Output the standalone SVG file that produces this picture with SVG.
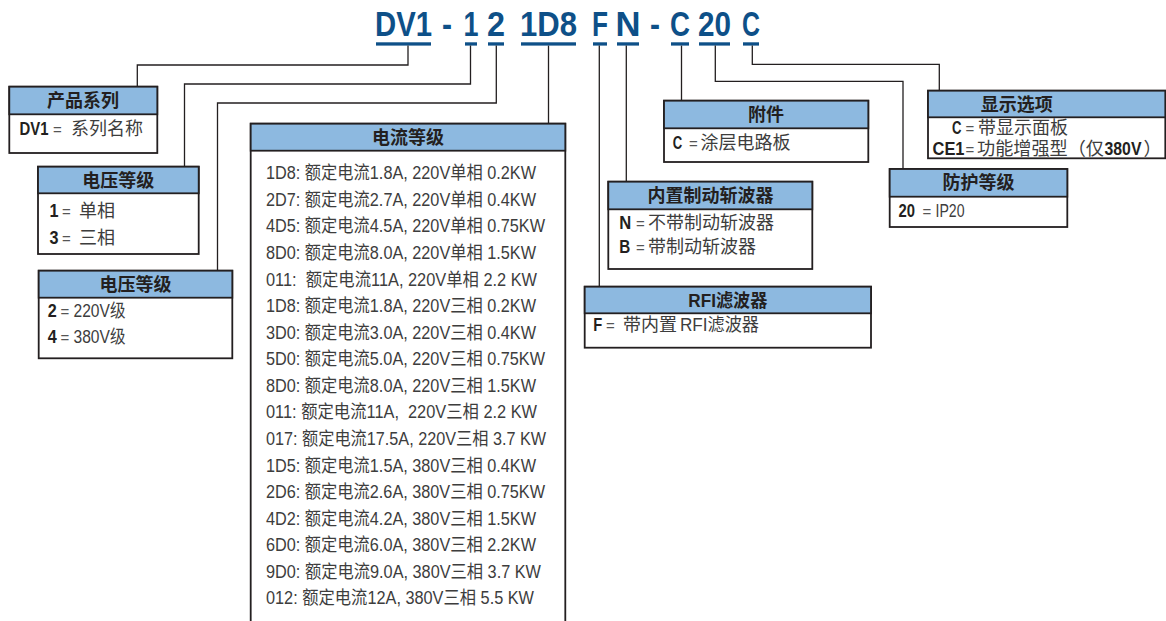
<svg xmlns="http://www.w3.org/2000/svg" width="1166" height="621" viewBox="0 0 1166 621">
<style>
.code{font-family:"Liberation Sans Narrow","Liberation Sans",sans-serif;font-weight:bold;font-size:35px;fill:#0e5088;text-anchor:middle}
.ul{fill:#0e5088}
.box{fill:#fff;stroke:#231f20;stroke-width:1.8}
.hdr{fill:#8db9e0;stroke:#231f20;stroke-width:1.8}
.ht{font-family:"Liberation Sans Narrow","Liberation Sans","Noto Sans CJK SC",sans-serif;font-weight:bold;font-size:18px;fill:#231f20;text-anchor:middle}
.bt{font-family:"Liberation Sans Narrow","Liberation Sans","Noto Sans CJK SC",sans-serif;font-size:18px;fill:#3d3d3d}
.b{font-family:"Liberation Sans Narrow","Liberation Sans",sans-serif;font-size:18px;font-weight:bold;fill:#231f20}
.eq{font-family:"Liberation Sans",sans-serif;font-size:15px;fill:#555}
.con{fill:none;stroke:#231f20;stroke-width:1.3}
</style>

<g id="code">
<text class="code" x="403.5" y="35.5" textLength="57" lengthAdjust="spacingAndGlyphs">DV1</text>
<text class="code" x="447" y="35.5" textLength="10" lengthAdjust="spacingAndGlyphs">-</text>
<text class="code" x="471" y="35.5" textLength="15" lengthAdjust="spacingAndGlyphs">1</text>
<text class="code" x="496" y="35.5" textLength="18" lengthAdjust="spacingAndGlyphs">2</text>
<text class="code" x="548.5" y="35.5" textLength="57" lengthAdjust="spacingAndGlyphs">1D8</text>
<text class="code" x="600" y="35.5" textLength="16" lengthAdjust="spacingAndGlyphs">F</text>
<text class="code" x="628" y="35.5" textLength="25" lengthAdjust="spacingAndGlyphs">N</text>
<text class="code" x="655" y="35.5" textLength="10" lengthAdjust="spacingAndGlyphs">-</text>
<text class="code" x="680" y="35.5" textLength="20" lengthAdjust="spacingAndGlyphs">C</text>
<text class="code" x="714.5" y="35.5" textLength="33" lengthAdjust="spacingAndGlyphs">20</text>
<text class="code" x="751" y="35.5" textLength="18" lengthAdjust="spacingAndGlyphs">C</text>
<rect class="ul" x="376" y="42.3" width="55" height="3.3"/>
<rect class="ul" x="465" y="42.3" width="12" height="3.3"/>
<rect class="ul" x="488" y="42.3" width="16" height="3.3"/>
<rect class="ul" x="521" y="42.3" width="55" height="3.3"/>
<rect class="ul" x="593" y="42.3" width="14" height="3.3"/>
<rect class="ul" x="617" y="42.3" width="22" height="3.3"/>
<rect class="ul" x="671" y="42.3" width="18" height="3.3"/>
<rect class="ul" x="699" y="42.3" width="31" height="3.3"/>
<rect class="ul" x="743" y="42.3" width="16" height="3.3"/>
</g>

<g id="connectors">
<path class="con" d="M408,45.6 V65 H137.3 V86.7"/>
<path class="con" d="M470.5,45.6 V84 H184.5 V166.7"/>
<path class="con" d="M496.3,45.6 V103 H217.5 V270.7"/>
<path class="con" d="M548.5,45.6 V123.7"/>
<path class="con" d="M599.3,45.6 V286.7"/>
<path class="con" d="M626.3,45.6 V181.7"/>
<path class="con" d="M681.5,45.6 V100.7"/>
<path class="con" d="M715.3,45.6 V81.3 H903 V169"/>
<path class="con" d="M752.3,45.6 V64.3 H939.3 V90.7"/>
</g>

<g id="node-series">
<rect class="box" x="9.3" y="86.7" width="148" height="66.3"/>
<rect class="hdr" x="9.3" y="86.7" width="148" height="27.6"/>
<text class="ht" x="83" y="107">产品系列</text>
<text class="b" x="19.5" y="135" textLength="29" lengthAdjust="spacingAndGlyphs">DV1</text>
<text class="eq" x="53" y="135">=</text>
<text class="bt" x="71" y="135">系列名称</text>
</g>

<g id="node-phase">
<rect class="box" x="38" y="166.7" width="160.7" height="87.3"/>
<rect class="hdr" x="38" y="166.7" width="160.7" height="26.6"/>
<text class="ht" x="118.3" y="186.5">电压等级</text>
<text class="b" x="49.5" y="216.7" textLength="9" lengthAdjust="spacingAndGlyphs">1</text>
<text class="eq" x="62" y="216.7">=</text>
<text class="bt" x="79" y="216.7">单相</text>
<text class="b" x="49.5" y="243.5" textLength="9" lengthAdjust="spacingAndGlyphs">3</text>
<text class="eq" x="62" y="243.5">=</text>
<text class="bt" x="79" y="243.5">三相</text>
</g>

<g id="node-voltage">
<rect class="box" x="38.7" y="270.7" width="193.6" height="87.6"/>
<rect class="hdr" x="38.7" y="270.7" width="193.6" height="27"/>
<text class="ht" x="135.5" y="290.7">电压等级</text>
<text class="b" x="47.8" y="316.7" textLength="9" lengthAdjust="spacingAndGlyphs">2</text>
<text class="eq" x="60.5" y="316.7">=</text>
<text class="bt" x="73.5" y="316.7" textLength="52" lengthAdjust="spacingAndGlyphs">220V级</text>
<text class="b" x="47.8" y="343.3" textLength="9" lengthAdjust="spacingAndGlyphs">4</text>
<text class="eq" x="60.5" y="343.3">=</text>
<text class="bt" x="73.5" y="343.3" textLength="52" lengthAdjust="spacingAndGlyphs">380V级</text>
</g>

<g id="node-current">
<path class="box" d="M250.7,630 V123.7 H565.3 V630"/>
<rect class="hdr" x="250.7" y="123.7" width="314.6" height="27"/>
<text class="ht" x="408" y="143.7">电流等级</text>
<g class="bt">
<text x="266" y="179.3" textLength="270" lengthAdjust="spacingAndGlyphs">1D8: 额定电流1.8A, 220V单相 0.2KW</text>
<text x="266" y="205.9" textLength="270" lengthAdjust="spacingAndGlyphs">2D7: 额定电流2.7A, 220V单相 0.4KW</text>
<text x="266" y="232.4" textLength="279" lengthAdjust="spacingAndGlyphs">4D5: 额定电流4.5A, 220V单相 0.75KW</text>
<text x="266" y="259" textLength="270" lengthAdjust="spacingAndGlyphs">8D0: 额定电流8.0A, 220V单相 1.5KW</text>
<text x="266" y="285.5" textLength="271" lengthAdjust="spacingAndGlyphs">011:&#160; 额定电流11A, 220V单相 2.2 KW</text>
<text x="266" y="312.1" textLength="270" lengthAdjust="spacingAndGlyphs">1D8: 额定电流1.8A, 220V三相 0.2KW</text>
<text x="266" y="338.7" textLength="270" lengthAdjust="spacingAndGlyphs">3D0: 额定电流3.0A, 220V三相 0.4KW</text>
<text x="266" y="365.2" textLength="279" lengthAdjust="spacingAndGlyphs">5D0: 额定电流5.0A, 220V三相 0.75KW</text>
<text x="266" y="391.8" textLength="270" lengthAdjust="spacingAndGlyphs">8D0: 额定电流8.0A, 220V三相 1.5KW</text>
<text x="266" y="418.3" textLength="271" lengthAdjust="spacingAndGlyphs">011: 额定电流11A,&#160; 220V三相 2.2 KW</text>
<text x="266" y="444.9" textLength="280" lengthAdjust="spacingAndGlyphs">017: 额定电流17.5A, 220V三相 3.7 KW</text>
<text x="266" y="471.5" textLength="270" lengthAdjust="spacingAndGlyphs">1D5: 额定电流1.5A, 380V三相 0.4KW</text>
<text x="266" y="498" textLength="279" lengthAdjust="spacingAndGlyphs">2D6: 额定电流2.6A, 380V三相 0.75KW</text>
<text x="266" y="524.6" textLength="270" lengthAdjust="spacingAndGlyphs">4D2: 额定电流4.2A, 380V三相 1.5KW</text>
<text x="266" y="551.1" textLength="270" lengthAdjust="spacingAndGlyphs">6D0: 额定电流6.0A, 380V三相 2.2KW</text>
<text x="266" y="577.7" textLength="275" lengthAdjust="spacingAndGlyphs">9D0: 额定电流9.0A, 380V三相 3.7 KW</text>
<text x="266" y="604.3" textLength="268" lengthAdjust="spacingAndGlyphs">012: 额定电流12A, 380V三相 5.5 KW</text>
</g>
</g>

<g id="node-accessory">
<rect class="box" x="664" y="100.7" width="204.3" height="61.3"/>
<rect class="hdr" x="664" y="100.7" width="204.3" height="27.6"/>
<text class="ht" x="766" y="121">附件</text>
<text class="b" x="672.8" y="148.5" textLength="9.5" lengthAdjust="spacingAndGlyphs">C</text>
<text class="eq" x="689" y="148.5">=</text>
<text class="bt" x="700.5" y="148.5">涂层电路板</text>
</g>

<g id="node-brake">
<rect class="box" x="608.3" y="181.7" width="204" height="87.3"/>
<rect class="hdr" x="608.3" y="181.7" width="204" height="27.6"/>
<text class="ht" x="710.5" y="202">内置制动斩波器</text>
<text class="b" x="619.3" y="229.3" textLength="12" lengthAdjust="spacingAndGlyphs">N</text>
<text class="eq" x="636" y="229.3">=</text>
<text class="bt" x="648" y="229.3">不带制动斩波器</text>
<text class="b" x="619.3" y="252.7" textLength="11" lengthAdjust="spacingAndGlyphs">B</text>
<text class="eq" x="636" y="252.7">=</text>
<text class="bt" x="648" y="252.7">带制动斩波器</text>
</g>

<g id="node-rfi">
<rect class="box" x="584.7" y="286.7" width="286.3" height="61"/>
<rect class="hdr" x="584.7" y="286.7" width="286.3" height="26.6"/>
<text class="ht" x="727.8" y="306.5" textLength="79" lengthAdjust="spacingAndGlyphs">RFI滤波器</text>
<text class="b" x="593.3" y="330.7" textLength="9" lengthAdjust="spacingAndGlyphs">F</text>
<text class="eq" x="606" y="330.7">=</text>
<text class="bt" x="623" y="330.7">带内置</text>
<text class="bt" x="680" y="330.7" textLength="79" lengthAdjust="spacingAndGlyphs">RFI滤波器</text>
</g>

<g id="node-protection">
<rect class="box" x="889.7" y="169" width="177.6" height="58"/>
<rect class="hdr" x="889.7" y="169" width="177.6" height="27.7"/>
<text class="ht" x="978.5" y="189.3">防护等级</text>
<text class="b" x="898.6" y="216.7" textLength="16.5" lengthAdjust="spacingAndGlyphs">20</text>
<text class="eq" x="922.5" y="216.7">=</text>
<text class="bt" x="935.5" y="216.7" textLength="29" lengthAdjust="spacingAndGlyphs">IP20</text>
</g>

<g id="node-display">
<rect class="box" x="928" y="90.7" width="237.3" height="67.6"/>
<rect class="hdr" x="928" y="90.7" width="237.3" height="26.6"/>
<text class="ht" x="1016.7" y="110.5">显示选项</text>
<text class="b" x="952" y="134.3" textLength="9.5" lengthAdjust="spacingAndGlyphs">C</text>
<text class="eq" x="965.5" y="134.3">=</text>
<text class="bt" x="978" y="134.3">带显示面板</text>
<text class="b" x="932.5" y="154.5" textLength="32" lengthAdjust="spacingAndGlyphs">CE1</text>
<text class="eq" x="965.5" y="154.5">=</text>
<text class="bt" x="977" y="154.5" textLength="127" lengthAdjust="spacingAndGlyphs">功能增强型（仅</text>
<text class="b" x="1104.5" y="154.5" textLength="37" lengthAdjust="spacingAndGlyphs">380V</text>
<text class="bt" x="1143.5" y="154.5">）</text>
</g>
</svg>
